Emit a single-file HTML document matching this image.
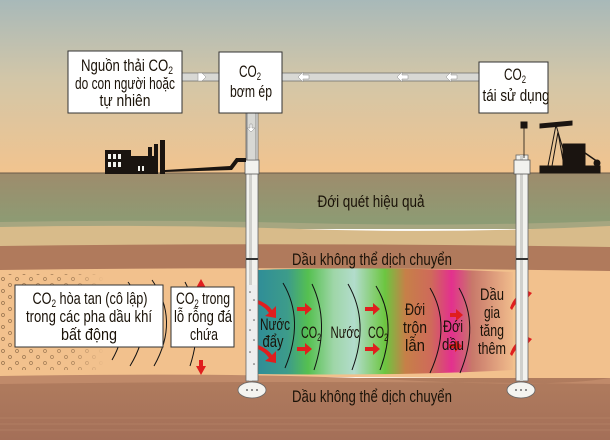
<!DOCTYPE html>
<html><head><meta charset="utf-8"><style>
html,body{margin:0;padding:0;background:#fff}
svg{display:block}
text{font-family:"Liberation Sans",sans-serif;fill:#1a1208}
</style></head><body>
<svg width="614" height="442" viewBox="0 0 614 442" xmlns="http://www.w3.org/2000/svg">
<defs>
<linearGradient id="sky" x1="0" y1="0" x2="0" y2="1">
<stop offset="0" stop-color="#a8b9b9"/><stop offset="0.45" stop-color="#d2c6a8"/><stop offset="1" stop-color="#f2c48e"/>
</linearGradient>
<linearGradient id="soil" x1="0" y1="0" x2="0" y2="1">
<stop offset="0" stop-color="#9e8c6c"/><stop offset="1" stop-color="#8c9c74"/>
</linearGradient>
<linearGradient id="bot" x1="0" y1="0" x2="0" y2="1">
<stop offset="0" stop-color="#b07c5e"/><stop offset="1" stop-color="#a46f58"/>
</linearGradient>
<linearGradient id="zone" x1="0" y1="0" x2="1" y2="0">
<stop offset="0" stop-color="#2f8d98"/><stop offset="0.12" stop-color="#3d9c8a"/>
<stop offset="0.2" stop-color="#55c050"/><stop offset="0.3" stop-color="#9fd6a8"/>
<stop offset="0.38" stop-color="#b2dccc"/><stop offset="0.5" stop-color="#6cc640"/>
<stop offset="0.58" stop-color="#c68048"/><stop offset="0.68" stop-color="#cf6a5a"/>
<stop offset="0.76" stop-color="#e3308e"/><stop offset="0.84" stop-color="#c8786a"/>
<stop offset="1" stop-color="#f0bc8c"/>
</linearGradient>
<pattern id="dots" width="14" height="12" patternUnits="userSpaceOnUse">
<circle cx="3" cy="3" r="1.5" fill="none" stroke="#7a5a3a" stroke-width="0.7"/>
<circle cx="10" cy="9" r="1.5" fill="none" stroke="#7a5a3a" stroke-width="0.7"/>
</pattern>
<linearGradient id="dotfade" x1="0" y1="0" x2="1" y2="0">
<stop offset="0" stop-color="#fff" stop-opacity="0.8"/><stop offset="0.7" stop-color="#fff" stop-opacity="0.6"/><stop offset="1" stop-color="#fff" stop-opacity="0"/>
</linearGradient>
<mask id="dm"><rect x="0" y="274" width="105" height="96" fill="url(#dotfade)"/></mask>
</defs>
<rect width="614" height="442" fill="#fff"/>
<rect x="0" y="0" width="610" height="174" fill="url(#sky)"/>
<rect x="0" y="173" width="610" height="52" fill="url(#soil)"/>
<path d="M0 222 Q150 219 300 223 T610 221 L610 229 L0 229z" fill="#a6a680"/>
<path d="M0 227 Q150 224 300 229 T610 226 L610 248 Q300 243 0 247z" fill="#d8bb8a"/>
<path d="M0 246 Q300 242 610 247 L610 272 Q300 268 0 272z" fill="#b07a5c"/>
<path d="M0 270 Q300 266 610 271 L610 380 Q300 374 0 380z" fill="#f2c18d"/>
<rect x="0" y="378" width="610" height="62" fill="url(#bot)"/>
<path d="M0 376 Q250 372 400 380 T610 378 L610 384 Q300 380 0 384z" fill="#c08a6a"/>
<g stroke="#b88668" stroke-width="1" opacity="0.6"><line x1="0" y1="418" x2="610" y2="418"/><line x1="0" y1="424" x2="610" y2="424"/><line x1="0" y1="430" x2="610" y2="430"/></g>
<line x1="0" y1="173" x2="610" y2="173" stroke="#6a5a48" stroke-width="1"/>
<rect x="0" y="274" width="105" height="96" fill="url(#dots)" mask="url(#dm)"/>
<path d="M257 270 Q380 266 513 272 L513 370 Q400 376 257 374z" fill="url(#zone)"/>
<g fill="none" stroke="#111" stroke-width="1">
<path d="M108 285 Q135 320 112 360"/><path d="M128 282 Q158 320 130 366"/>
<path d="M152 280 Q180 320 154 366"/><path d="M185 282 Q205 320 190 366"/>
<path d="M283 283 Q305 320 285 368"/><path d="M312 284 Q330 322 314 370"/>
<path d="M348 284 Q370 322 352 370"/><path d="M376 286 Q398 322 380 370"/>
<path d="M430 288 Q452 325 430 373"/><path d="M459 288 Q480 325 460 373"/>
</g>
<g fill="#e01e1e">
<path d="M258 300 Q268 304 272 310 L276 306 L276 318 L265 316 L269 313 Q265 307 258 304z"/>
<path d="M258 345 Q268 349 272 355 L276 351 L276 363 L265 361 L269 358 Q265 352 258 349z"/>
<path d="M297 307h8v-4l7 6-7 6v-4h-8z"/><path d="M297 347h8v-4l7 6-7 6v-4h-8z"/>
<path d="M365 307h8v-4l7 6-7 6v-4h-8z"/><path d="M365 347h8v-4l7 6-7 6v-4h-8z"/>
<path d="M450 313h6v-4l7 6-7 6v-4h-6z"/><path d="M449 344h6v-4l7 6-7 6v-4h-6z"/>
<path d="M201 279l5 9h-3v6h-4v-6h-3z"/><path d="M201 375l5-9h-3v-6h-4v6h-3z"/>
<path d="M510 308 Q514 296 524 292 L522 288 L532 293 L525 301 L525 297 Q517 300 512 310z"/>
<path d="M510 354 Q514 342 524 338 L522 334 L532 339 L525 347 L525 343 Q517 346 512 356z"/>
</g>
<g>
<rect x="246" y="113" width="12" height="268" fill="#f2f2ee" stroke="#666" stroke-width="0.8"/>
<rect x="249" y="113" width="3" height="268" fill="#d0d0cc"/>
<rect x="247" y="285" width="10" height="95" fill="#eee" />
<g fill="#555"><circle cx="250" cy="292" r="0.8"/><circle cx="254" cy="300" r="0.8"/><circle cx="250" cy="310" r="0.8"/><circle cx="254" cy="320" r="0.8"/><circle cx="250" cy="330" r="0.8"/><circle cx="254" cy="340" r="0.8"/><circle cx="250" cy="352" r="0.8"/><circle cx="254" cy="364" r="0.8"/></g>
<ellipse cx="252" cy="390" rx="14" ry="8" fill="#f4f4f0" stroke="#666" stroke-width="0.8"/>
<g fill="#444"><circle cx="247" cy="390" r="0.9"/><circle cx="252" cy="390" r="0.9"/><circle cx="257" cy="390" r="0.9"/></g>
<rect x="245" y="160" width="14" height="14" fill="#f2f2ee" stroke="#555" stroke-width="0.8"/>
<rect x="516" y="155" width="12" height="226" fill="#f2f2ee" stroke="#666" stroke-width="0.8"/>
<rect x="520" y="155" width="3" height="226" fill="#d0d0cc"/>
<ellipse cx="521" cy="390" rx="14" ry="8" fill="#f4f4f0" stroke="#666" stroke-width="0.8"/>
<g fill="#444"><circle cx="516" cy="390" r="0.9"/><circle cx="521" cy="390" r="0.9"/><circle cx="526" cy="390" r="0.9"/></g>
<rect x="514" y="160" width="16" height="14" fill="#f2f2ee" stroke="#555" stroke-width="0.8"/>
<g fill="#333"><rect x="246" y="258" width="12" height="2"/><rect x="516" y="258" width="12" height="2"/></g>
</g>
<g fill="#1a1410">
<rect x="105" y="150" width="26" height="24"/><rect x="131" y="156" width="25" height="18"/>
<rect x="148" y="147" width="4" height="27"/><rect x="154" y="144" width="4" height="30"/><rect x="160" y="140" width="5" height="34"/>
<path d="M165 170 L230 166 L236 158 L246 158 L246 162 L238 162 L232 170 L165 172z"/>
</g>
<g fill="#f2f2ee"><rect x="108" y="154" width="3" height="5"/><rect x="113" y="154" width="3" height="5"/><rect x="118" y="154" width="3" height="5"/><rect x="108" y="162" width="3" height="5"/><rect x="113" y="162" width="3" height="5"/><rect x="118" y="162" width="3" height="5"/><rect x="138" y="166" width="2" height="5"/><rect x="142" y="166" width="2" height="5"/></g>
<g fill="#1a1410" stroke="#1a1410">
<path d="M540 124 L572 121 L572 125 L540 128z"/>
<path d="M556 125 L548 166 L552 166 L558 132 L564 166 L568 166z" stroke-width="1" fill="none"/>
<rect x="563" y="144" width="22" height="22"/>
<rect x="540" y="166" width="60" height="7"/>
<line x1="575" y1="146" x2="598" y2="162" stroke-width="1.5"/>
<circle cx="597" cy="163" r="3"/>
<line x1="524" y1="126" x2="524" y2="158" stroke-width="0.8"/>
<path d="M521 122 h6 v6 h-6z"/>
</g>
<rect x="182" y="73" width="38" height="8" fill="#d8d8d4" stroke="#666" stroke-width="0.7"/>
<rect x="282" y="73" width="198" height="8" fill="#d8d8d4" stroke="#666" stroke-width="0.7"/>
<rect x="247" y="113" width="9" height="47" fill="#d8d8d4" stroke="#666" stroke-width="0.7"/>
<g fill="#fff" stroke="#888" stroke-width="0.5">
<path d="M198 73h4l4 4-4 4h-4z"/><path d="M298 77l5-5v3h6v4h-6v3z"/><path d="M397 77l5-5v3h6v4h-6v3z"/><path d="M446 77l5-5v3h6v4h-6v3z"/>
<path d="M251 132l-4-4h3v-4h2v4h3z"/>
</g>
<g fill="#fff" stroke="#333" stroke-width="1">
<rect x="68" y="51" width="114" height="62"/>
<rect x="219" y="52" width="63" height="61"/>
<rect x="479" y="62" width="69" height="51"/>
<rect x="15" y="285" width="148" height="62"/>
<rect x="171" y="287" width="63" height="60"/>
</g>
<g font-size="17" text-anchor="middle">
<text x="127" y="71" textLength="92" lengthAdjust="spacingAndGlyphs">Nguồn thải CO<tspan font-size="11" dy="3">2</tspan></text>
<text x="125" y="89" textLength="100" lengthAdjust="spacingAndGlyphs">do con người hoặc</text>
<text x="125" y="106" textLength="51" lengthAdjust="spacingAndGlyphs">tự nhiên</text>
<text x="250" y="77" textLength="22" lengthAdjust="spacingAndGlyphs">CO<tspan font-size="11" dy="3">2</tspan></text>
<text x="251" y="97" textLength="42" lengthAdjust="spacingAndGlyphs">bơm ép</text>
<text x="515" y="80" textLength="22" lengthAdjust="spacingAndGlyphs">CO<tspan font-size="11" dy="3">2</tspan></text>
<text x="516" y="101" textLength="67" lengthAdjust="spacingAndGlyphs">tái sử dụng</text>
<text x="90" y="304" textLength="115" lengthAdjust="spacingAndGlyphs">CO<tspan font-size="11" dy="3">2</tspan><tspan dy="-3"> hòa tan (cô lập)</tspan></text>
<text x="89" y="322" textLength="126" lengthAdjust="spacingAndGlyphs">trong các pha dầu khí</text>
<text x="89" y="340" textLength="56" lengthAdjust="spacingAndGlyphs">bất động</text>
<text x="203" y="304" textLength="54" lengthAdjust="spacingAndGlyphs">CO<tspan font-size="11" dy="3">2</tspan><tspan dy="-3"> trong</tspan></text>
<text x="203" y="322" textLength="58" lengthAdjust="spacingAndGlyphs">lỗ rỗng đá</text>
<text x="204" y="340" textLength="28" lengthAdjust="spacingAndGlyphs">chứa</text>
<text x="371" y="207" textLength="107" lengthAdjust="spacingAndGlyphs">Đới quét hiệu quả</text>
<text x="372" y="265" textLength="160" lengthAdjust="spacingAndGlyphs">Dầu không thể dịch chuyển</text>
<text x="372" y="402" textLength="160" lengthAdjust="spacingAndGlyphs">Dầu không thể dịch chuyển</text>
<text x="275" y="330" textLength="30" lengthAdjust="spacingAndGlyphs">Nước</text><text x="273" y="347" textLength="21" lengthAdjust="spacingAndGlyphs">đẩy</text>
<text x="311" y="338" textLength="20" lengthAdjust="spacingAndGlyphs">CO<tspan font-size="11" dy="3">2</tspan></text>
<text x="345" y="338" textLength="29" lengthAdjust="spacingAndGlyphs">Nước</text>
<text x="378" y="338" textLength="20" lengthAdjust="spacingAndGlyphs">CO<tspan font-size="11" dy="3">2</tspan></text>
<text x="415" y="315" textLength="20" lengthAdjust="spacingAndGlyphs">Đới</text><text x="415" y="333" textLength="24" lengthAdjust="spacingAndGlyphs">trộn</text><text x="415" y="351" textLength="20" lengthAdjust="spacingAndGlyphs">lẫn</text>
<text x="453" y="332" textLength="20" lengthAdjust="spacingAndGlyphs">Đới</text><text x="453" y="350" textLength="22" lengthAdjust="spacingAndGlyphs">dầu</text>
<text x="492" y="300" textLength="24" lengthAdjust="spacingAndGlyphs">Dầu</text><text x="492" y="318" textLength="16" lengthAdjust="spacingAndGlyphs">gia</text><text x="492" y="336" textLength="24" lengthAdjust="spacingAndGlyphs">tăng</text><text x="492" y="354" textLength="28" lengthAdjust="spacingAndGlyphs">thêm</text>
</g>
</svg>
</body></html>
